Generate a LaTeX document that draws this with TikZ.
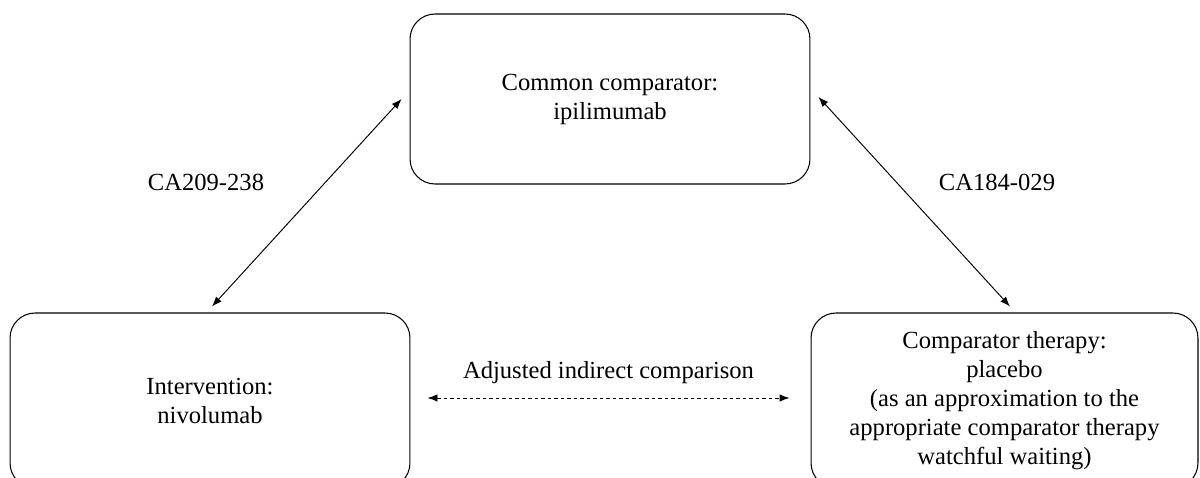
\documentclass[tikz,border=0pt]{standalone}
\usepackage{fontspec}
\setmainfont{Liberation Serif}
\usetikzlibrary{arrows.meta, positioning}
\tikzset{
  box/.style={rectangle, draw, line width=0.6pt, rounded corners=0.5cm, minimum width=8cm, minimum height=3.5cm, align=center, font=\fontsize{14}{16.5}\selectfont},
  lbl/.style={font=\fontsize{14}{16.5}\selectfont},
  arrow/.style={{Latex[length=0.2cm, width=0.15cm]}-{Latex[length=0.2cm, width=0.15cm]}, line width=0.55pt},
  dasharrow/.style={arrow, dash pattern=on 2.2pt off 1.5pt}
}

\begin{document}
\begin{tikzpicture}[x=0.02cm, y=-0.02cm]
\useasboundingbox (0,0) rectangle (1200,477);
\clip (0,0) rectangle (1200,477);

% Common comparator
\node[box, minimum height=3.4cm] (ipi) at (610,99) {Common comparator:\\ ipilimumab};

% Intervention
\node[box] (nivo) at (210,400.5) {Intervention:\\ nivolumab};

% Comparator therapy
\node[box, minimum width=7.74cm] (placebo) at (1004.5,400.5) {Comparator therapy:\\ placebo\\ (as an approximation to the\\ appropriate comparator therapy\\ watchful waiting)};

% Connections
\draw[arrow] ([xshift=-0.16cm]ipi.west) -- ([xshift=0.04cm, yshift=0.12cm]nivo.north);
\draw[arrow] ([xshift=0.16cm, yshift=0.04cm]ipi.east) -- ([xshift=0.11cm, yshift=0.12cm]placebo.north);
\draw[dasharrow] ([xshift=0.34cm, yshift=0.05cm]nivo.east) -- ([xshift=-0.42cm, yshift=0.05cm]placebo.west)
  node[midway, above=0.15cm, lbl] (indirect) {Adjusted indirect comparison};

% Labels
\node[lbl] (trialA) at (206,182) {CA209-238};
\node[lbl] (trialB) at (997,182) {CA184-029};

\end{tikzpicture}
\end{document}
